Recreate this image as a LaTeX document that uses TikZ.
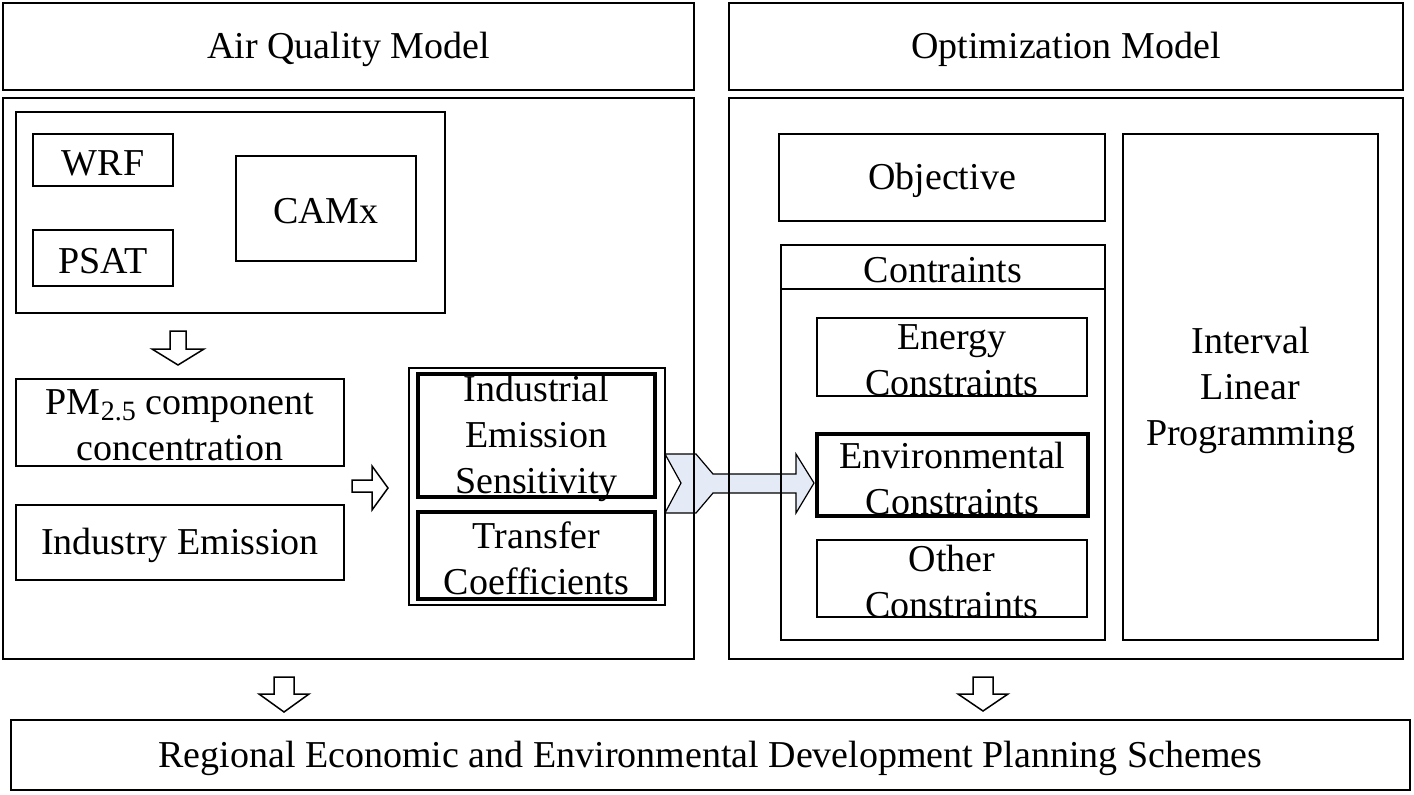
\documentclass[tikz,border=0pt]{standalone}
\usepackage{fontspec}
\setmainfont{Liberation Serif}
\usetikzlibrary{fit}
\definecolor{arrowfill}{RGB}{228,234,246}
\begin{document}
\begin{tikzpicture}[x=0.5pt,y=-0.5pt,
  box/.style={draw,line width=0.75pt,inner sep=0pt,rectangle},
  tbox/.style={draw,line width=2pt,inner sep=0pt,rectangle},
  txt/.style={align=center,inner sep=0pt,yshift=-1.5pt,font=\fontsize{19}{23}\selectfont},
  hollow/.style={draw,line width=0.75pt,fill=white},
  bigarrow/.style={draw,line width=0.6pt,fill=arrowfill}]
\useasboundingbox (0,0) rectangle (1414,794);

% big arrow drawn first (box lines pass over it)
\draw[bigarrow] (665,454)--(696,454)--(713,474)--(796,474)--(796,454)--(814,483)--(796,513)--(796,493)--(713,493)--(696,513)--(665,513)--(681,483)--cycle;

% headers
\node[box,fit={(3,3)(694,90)}] (hl) {};
\node[txt] at (hl.center) {Air Quality Model};
\node[box,fit={(729,3)(1403,90)}] (hr) {};
\node[txt] at (hr.center) {Optimization Model};

% panels
\node[box,fit={(3,98)(694,659)}] (pl) {};
\node[box,fit={(729,98)(1403,659)}] (pr) {};

% left panel
\node[box,fit={(16,112)(445,313)}] (grp) {};
\node[box,fit={(33,134)(173,186)}] (wrf) {};
\node[txt] at (wrf.center) {WRF};
\node[box,fit={(33,230)(173,286)}] (psat) {};
\node[txt] at (psat.center) {PSAT};
\node[box,fit={(236,156)(416,261)}] (camx) {};
\node[txt] at (camx.center) {CAMx};

\draw[hollow] (170,331)--(186,331)--(186,349)--(204,349)--(178,365)--(152,349)--(170,349)--cycle;

\node[box,fit={(16,379)(344,466)}] (pm) {};
\node[txt] at (pm.center) {PM\raisebox{-0.35ex}{\fontsize{14}{14}\selectfont 2.5} component\\concentration};
\node[box,fit={(16,505)(344,580)}] (ie) {};
\node[txt] at (ie.center) {Industry Emission};

\draw[hollow] (352,480)--(372,480)--(372,466)--(388,488)--(372,510)--(372,492)--(352,492)--cycle;

\node[box,fit={(409,368)(665,605)}] (sens) {};
\node[tbox,fit={(418,374)(655,497)}] (ies) {};
\node[txt] at (ies.center) {Industrial\\Emission\\Sensitivity};
\node[tbox,fit={(418,512)(655,599)}] (tc) {};
\node[txt] at (tc.center) {Transfer\\Coefficients};

% right panel
\node[box,fit={(779,134)(1105,221)}] (obj) {};
\node[txt] at (obj.center) {Objective};
\node[box,fit={(781,245)(1105,640)}] (con) {};
\coordinate (conl) at (781,289);
\coordinate (conr) at (1105,289);
\draw[line width=0.75pt] (conl)--(conr);
\node[txt] at (943,267) {Contraints};
\node[box,fit={(817,318)(1087,396)}] (en) {};
\node[txt] at (en.center) {Energy\\Constraints};
\node[tbox,fit={(817,434)(1088,516)}] (env) {};
\node[txt] at (env.center) {Environmental\\Constraints};
\node[box,fit={(817,540)(1087,617)}] (oth) {};
\node[txt] at (oth.center) {Other\\Constraints};
\node[box,fit={(1123,134)(1378,640)}] (ilp) {};
\node[txt] at (ilp.center) {Interval\\Linear\\Programming};

% bottom arrows
\draw[hollow] (274,677)--(294,677)--(294,694)--(309,694)--(284,712)--(259,694)--(274,694)--cycle;
\draw[hollow] (973,677)--(993,677)--(993,694)--(1008,694)--(983,711)--(958,694)--(973,694)--cycle;

% bottom box
\node[box,fit={(11,720)(1410,790)}] (plan) {};
\node[txt] at (plan.center) {Regional Economic and Environmental Development Planning Schemes};
\end{tikzpicture}
\end{document}
